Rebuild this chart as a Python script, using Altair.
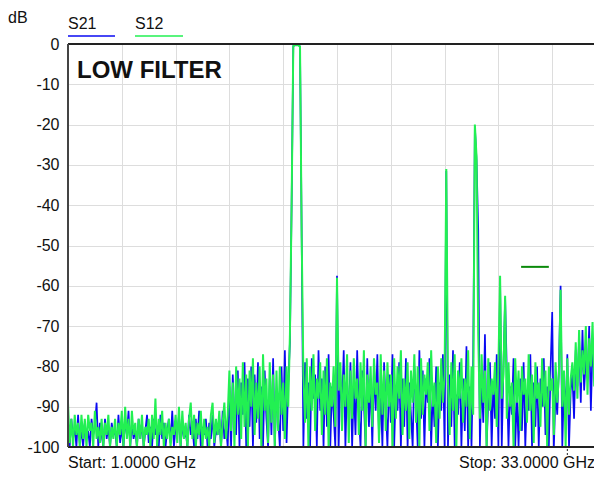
import altair as alt
import pandas as pd

# ---------------- data ----------------
freq_start = 1.0      # GHz
freq_step = 0.1       # GHz
n_points = 321        # 1.0 ... 33.0 GHz

# S12 (green) in segments
s12_low = [
    -89, -99, -93, -100, -92, -97, -94, -100, -92, -98,
    -93, -100, -92, -96, -94, -100, -91, -98, -95, -99,
    -93, -100, -94, -97, -92, -100, -95, -98, -93, -100,
    -94, -97, -91, -100, -90, -98, -93, -100, -91, -97,
    -94, -100, -93, -98, -92, -100, -95, -97, -93, -100,
    -92, -98, -88, -100, -93, -97, -91, -100, -94, -98,
    -93, -100, -95, -97, -92, -99, -90, -100, -91, -98,
    -94, -100, -93, -89, -98, -92, -100, -94, -97, -91,
    -100, -93, -98, -95, -100, -92, -89, -99, -93, -97,
    -91, -100, -94, -89, -98, -92,
]
s12_mid = [
    -81, -96, -84, -100,
    -80, -92, -83, -98, -79, -95, -82, -100, -81, -90,
    -78, -97, -84, -93, -80, -100, -77, -91, -83, -99,
    -79, -94, -82, -100, -81, -96, -80, -92, -84, -98,
    -80, -90, -72,
]
s12_pass = [-40, -0.5, -0.3, -0.3, -0.3, -0.6, -48]
s12_post = [
    -82, -94, -78, -100, -80, -91, -77, -96, -83, -88,
    -79, -97, -81, -92, -78, -100, -84, -90, -80, -95,
    -58,
    -86, -79, -96, -82, -90, -77, -99, -81, -93,
    -78, -88, -83, -97, -79, -91, -76, -100, -82, -89,
    -80, -95, -78, -87, -84, -99, -77, -92, -81, -96,
    -79, -90, -82, -100, -78, -93, -80, -88, -76, -97,
    -83, -91, -79, -98, -81, -89, -77, -94, -80, -100,
    -78, -92, -82, -87, -79, -96, -76, -90, -84, -99,
    -80, -93, -78, -89, -82,
    -31,
    -84, -97, -79, -91,
    -77, -100, -81, -88, -78, -94, -83, -90, -76, -98,
    -80, -92,
    -20, -28, -72,
    -93, -77, -89, -81, -100,
    -78, -91, -83, -87, -79, -95, -80,
    -57.5,
    -88, -82,
    -62.5,
    -93, -79, -90, -84, -100, -78, -89, -81, -96,
    -80, -87, -83, -94, -77, -91, -82, -99, -79, -88,
    -84, -95, -78, -90, -81, -100, -80, -86, -83, -97,
    -79, -89, -82,
    -61,
    -90, -81, -100, -78, -92, -83,
    -79, -86, -74, -88, -71, -84, -76, -82, -70, -87,
    -73, -80, -69, -85, -75, -81, -72, -90, -74, -79,
    -71,
]

# S21 (blue) in segments
s21_low = [
    -94, -100, -93, -98, -95, -100, -92, -99, -96, -100,
    -94, -98, -96, -100, -93, -97, -95, -89, -100, -94,
    -97, -100, -93, -98, -95, -100, -94, -97, -96, -100,
    -92, -99, -95, -100, -93, -97, -91, -100, -94, -98,
    -96, -100, -93, -98, -94, -100, -96, -92, -99, -95,
    -100, -93, -97, -95, -100, -92, -98, -94, -100, -96,
    -93, -99, -91, -100, -95, -97, -92, -100, -94, -98,
    -96, -100, -92, -97, -95, -100, -93, -98, -91, -100,
    -95, -97, -93, -100, -94, -98, -92, -100, -96, -97,
    -93, -100, -91, -98, -95, -100,
]
s21_mid = [
    -85, -100, -82, -93,
    -97, -81, -100, -84, -92, -79, -100, -83, -95, -80,
    -100, -82, -94, -79, -98, -85, -100, -81, -93, -100,
    -83, -97, -78, -100, -86, -93, -100, -80, -96, -76,
    -99, -84, -74,
]
s21_pass = [-40, -0.5, -0.3, -0.3, -0.3, -0.6, -48]
s21_post = [
    -100, -79, -93, -84, -100, -78, -88, -82, -100, -76,
    -91, -83, -100, -80, -95, -77, -100, -85, -92, -100,
    -57.5,
    -100, -82, -90, -76, -100, -84, -93, -79, -100,
    -85, -97, -76, -92, -100, -81, -89, -100, -78, -95,
    -83, -100, -80, -91, -77, -98, -86, -100, -79, -90,
    -100, -82, -94, -77, -100, -85, -91, -79, -100, -83,
    -95, -78, -100, -84, -92, -100, -80, -88, -100, -76,
    -93, -81, -100, -83, -89, -78, -100, -86, -95, -80,
    -100, -84, -91, -77, -100,
    -31.5,
    -100, -82, -95, -76,
    -100, -87, -92, -79, -100, -83, -96, -75, -100, -85,
    -100, -78,
    -20.5, -29, -46,
    -100, -82, -94, -72, -100,
    -88, -79, -100, -84, -93, -77, -100,
    -58,
    -100, -80,
    -63,
    -81, -100, -85, -92, -78, -100, -87, -100, -83,
    -96, -79, -100, -86, -91, -77, -100, -84, -95, -80,
    -100, -83, -90, -78, -97, -85, -100, -81, -66.5, -100,
    -86, -92, -80,
    -60,
    -100, -84, -91, -77, -100, -86,
    -82, -93, -76, -85, -73, -89, -71, -86, -78, -83,
    -70, -91, -75, -82, -69, -87, -74, -80, -72, -88,
    -76,
]

x_grid = [1.0, 4.2, 7.4, 10.6, 13.8, 17.0, 20.2, 23.4, 26.6, 29.8, 33.0]
y_ticks = [-100, -90, -80, -70, -60, -50, -40, -30, -20, -10, 0]

limit_f = [27.95, 29.6]
limit_db = -55.3
marker_f = [30.7]

title_text = "LOW FILTER"
y_unit = "dB"
start_text = "Start: 1.0000 GHz"
stop_text = "Stop: 33.0000 GHz"

# ---------------- build ----------------
s12 = s12_low + s12_mid + s12_pass + s12_post
s21 = s21_low + s21_mid + s21_pass + s21_post
assert len(s12) == n_points and len(s21) == n_points, (len(s12), len(s21))
freq = [round(freq_start + freq_step * i, 1) for i in range(n_points)]

df21 = pd.DataFrame({"freq": freq, "db": s21})
df12 = pd.DataFrame({"freq": freq, "db": s12})

FONT = "Liberation Sans"
BLUE = "#0a0af2"
GREEN = "#22f052"

# the instrument screen is cut off on the right: full grid would be 538 px wide
PLOT_W = 526
PLOT_H = 403
x_max = 1 + PLOT_W * 32 / 538

xenc = alt.X("freq:Q",
             scale=alt.Scale(domain=[1, x_max], nice=False, zero=False),
             axis=alt.Axis(values=x_grid, labels=False, ticks=False, domain=False,
                           grid=True, title=None))
yenc = alt.Y("db:Q",
             scale=alt.Scale(domain=[-100, 0], nice=False, zero=False),
             axis=alt.Axis(values=y_ticks, ticks=False, domain=False, grid=True,
                           title=None, labelFontSize=16, labelFont=FONT,
                           labelExpr="'' + datum.value",
                           labelColor="#111111", labelPadding=9, labelFlush=False))

blue = alt.Chart(df21).mark_line(color=BLUE, strokeWidth=1.7, clip=True).encode(x=xenc, y=yenc)
green = alt.Chart(df12).mark_line(color=GREEN, strokeWidth=2.0, clip=True).encode(x=xenc, y=yenc)

limit = alt.Chart(pd.DataFrame({"f1": [limit_f[0]], "f2": [limit_f[1]], "db": [limit_db]})).mark_rule(
    color="#0a8a0a", strokeWidth=2).encode(x="f1:Q", x2="f2:Q", y="db:Q")

marker = alt.Chart(pd.DataFrame({"f": marker_f})).mark_rule(
    color="#222", strokeWidth=1, strokeDash=[2, 2]).encode(
    x="f:Q", y=alt.value(405), y2=alt.value(413))


def label(txt, x, y, size=16, weight="normal", align="left"):
    return alt.Chart(pd.DataFrame({"t": [txt]})).mark_text(
        font=FONT, fontSize=size, fontWeight=weight, align=align,
        baseline="alphabetic", color="#111111").encode(
        text="t:N", x=alt.value(x), y=alt.value(y))


def seg(color, x1, x2, y1, y2=None, w=1.5):
    enc = dict(x=alt.value(x1), y=alt.value(y1))
    if x2 is not None:
        enc["x2"] = alt.value(x2)
    if y2 is not None:
        enc["y2"] = alt.value(y2)
    return alt.Chart(pd.DataFrame({"a": [0]})).mark_rule(color=color, strokeWidth=w).encode(**enc)


chart = alt.layer(
    blue, green, limit, marker,
    seg("#222222", 0, PLOT_W, 0, w=2),
    seg("#222222", 0, PLOT_W, PLOT_H, w=2),
    seg("#444444", 0, None, 0, PLOT_H, w=2),
    label(y_unit, -60, -21),
    label("S21", 0, -15),
    label("S12", 67, -15),
    seg(BLUE, 0, 47, -8),
    seg(GREEN, 67, 115, -8),
    label(title_text, 9, 34, size=24, weight="bold"),
    label(start_text, 0, 424),
    label(stop_text, 391, 424),
).properties(
    width=PLOT_W, height=PLOT_H,
    padding={"left": 60, "top": 36, "right": 0, "bottom": 25},
    autosize=alt.AutoSizeParams(type="none"),
).configure_view(
    stroke=None
).configure_axis(
    gridColor="#cdcdcd", gridWidth=1.5
).configure(background="white")

chart.save("out.html", embed_options={"renderer": "svg", "actions": False})
